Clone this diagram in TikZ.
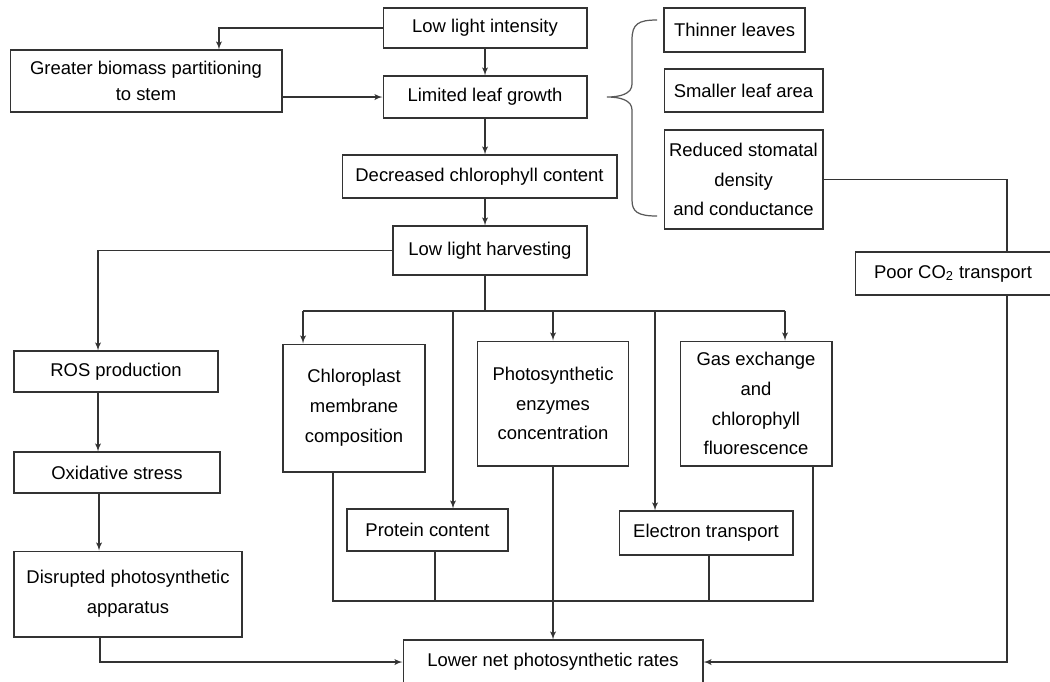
\documentclass[tikz,border=0pt]{standalone}
\usepackage{fontspec}
\setmainfont{Liberation Sans}
\usetikzlibrary{shapes, arrows}
\tikzstyle{block} = [rectangle, draw=black!80, line width=0.6pt, align=center,
    inner sep=0pt, font=\fontsize{10.5}{17}\selectfont]
\tikzstyle{line} = [draw=black!80, line width=0.6pt, -latex']
\tikzstyle{wire} = [draw=black!80, line width=0.6pt]
\tikzstyle{brace} = [draw=black!65, line width=0.7pt]

\begin{document}
\begin{tikzpicture}[x=0.02cm, y=-0.02cm]
        \useasboundingbox (0,0) rectangle (1050,681);
        % Place nodes
        \node [block, minimum width=4.08cm, minimum height=0.8cm] (light) at (485,28) {Low light intensity};
        \node [block, minimum width=4.08cm, minimum height=0.84cm] (growth) at (485,97) {Limited leaf growth};
        \node [block, minimum width=5.44cm, minimum height=1.24cm, font=\fontsize{10.5}{15}\selectfont] (biomass) at (146,81) {Greater biomass partitioning\\to stem};
        \node [block, minimum width=5.5cm, minimum height=0.86cm] (chloro) at (479.5,176.5) {Decreased chlorophyll content};
        \node [block, minimum width=3.88cm, minimum height=0.98cm] (harvest) at (490,250.5) {Low light harvesting};
        \node [block, minimum width=2.82cm, minimum height=0.88cm] (thin) at (734.5,30) {Thinner leaves};
        \node [block, minimum width=3.18cm, minimum height=0.86cm] (smaller) at (743.5,90.5) {Smaller leaf area};
        \node [block, minimum width=3.18cm, minimum height=1.98cm] (stomatal) at (743.5,179.5) {Reduced stomatal\\density\\and conductance};
        \node [block, minimum width=3.92cm, minimum height=0.86cm] (co2) at (953,273.5) {Poor CO\textsubscript{2} transport};
        \node [block, minimum width=4.08cm, minimum height=0.82cm] (ros) at (116,371.5) {ROS production};
        \node [block, minimum width=4.12cm, minimum height=0.82cm] (oxid) at (117,472.5) {Oxidative stress};
        \node [block, minimum width=4.56cm, minimum height=1.72cm] (disrupt) at (128,594) {Disrupted photosynthetic\\apparatus};
        \node [block, minimum width=2.84cm, minimum height=2.56cm] (membrane) at (354,408) {Chloroplast\\membrane\\composition};
        \node [block, minimum width=3.22cm, minimum height=0.84cm] (protein) at (427.5,530) {Protein content};
        \node [block, minimum width=3.02cm, minimum height=2.5cm] (enzymes) at (553,403.5) {Photosynthetic\\enzymes\\concentration};
        \node [block, minimum width=3.04cm, minimum height=2.5cm] (gas) at (756,403.5) {Gas exchange\\and\\chlorophyll\\fluorescence};
        \node [block, minimum width=3.48cm, minimum height=0.88cm] (electron) at (706,533) {Electron transport};
        \node [block, minimum width=6cm, minimum height=0.88cm] (lower) at (553,662) {Lower net photosynthetic rates};
        \coordinate (bus) at (485,311);
        \coordinate (collect) at (553,601);
        % Brace
        \path [brace] (657,20) .. controls (638,20) and (632,24) .. (632,40) -- (632,84)
            .. controls (632,94) and (620,97) .. (607,97)
            .. controls (620,97) and (632,100) .. (632,110) -- (632,200)
            .. controls (632,212) and (638,216) .. (657,216);
        % Draw edges
        \path [line] (light.west) -| ([xshift=1.46cm]biomass.north);
        \path [line] (light) -- (growth);
        \path [line] (biomass.east |- growth) -- (growth);
        \path [line] (growth) -- (growth |- chloro.north);
        \path [line] (growth |- chloro.south) -- (growth |- harvest.north);
        \path [line] (harvest.west) -| ([xshift=-0.36cm]ros.north);
        \path [line] ([xshift=-0.36cm]ros.south) -- ([xshift=-0.36cm]ros.south |- oxid.north);
        \path [line] ([xshift=-0.36cm]oxid.south) -- ([xshift=-0.36cm]oxid.south |- disrupt.north);
        \path [line] ([xshift=-0.56cm]disrupt.south) |- (lower.west);
        \path [wire] (growth |- harvest.south) -- (bus);
        \path [wire] ([xshift=-1.02cm]membrane.north |- bus) -- ([xshift=0.58cm]gas.north |- bus);
        \foreach \n/\dx in {membrane/-1.02, protein/0.51, enzymes/0, electron/-1.02, gas/0.58}
            \path [line] ([xshift=\dx cm]\n.north |- bus) -- ([xshift=\dx cm]\n.north);
        \path [wire] ([xshift=-0.42cm]membrane.south) |- ([xshift=1.14cm]gas.south |- collect) -- ([xshift=1.14cm]gas.south);
        \path [wire] ([xshift=0.15cm]protein.south) -- ([xshift=0.15cm]protein.south |- collect);
        \path [wire] ([xshift=0.06cm]electron.south) -- ([xshift=0.06cm]electron.south |- collect);
        \path [line] (enzymes) -- (lower);
        \path [wire] (stomatal.east) -| ([xshift=1.08cm]co2.north);
        \path [line] ([xshift=1.08cm]co2.south) |- (lower.east);
    \end{tikzpicture}
\end{document}
